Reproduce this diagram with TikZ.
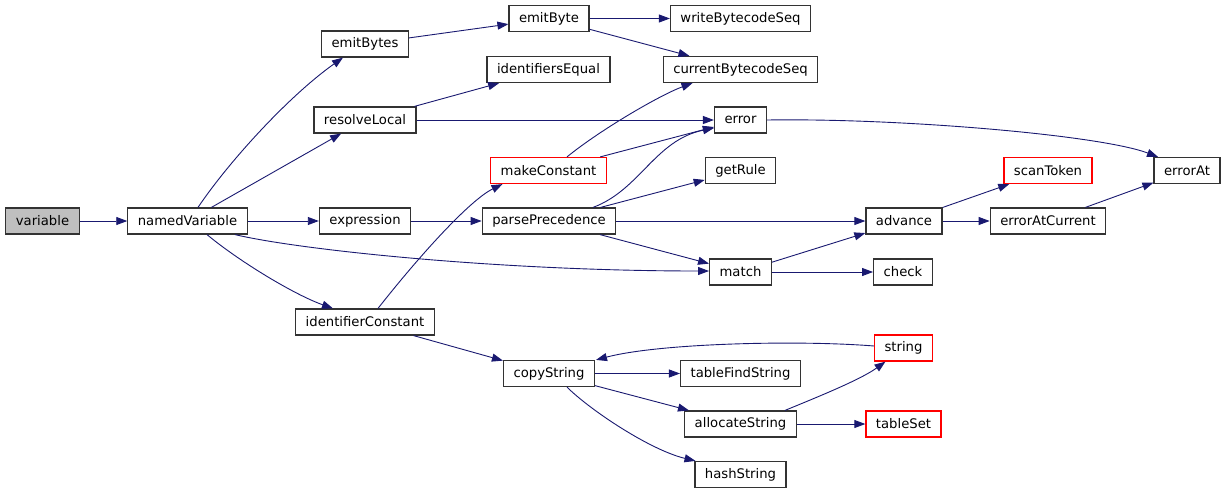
\documentclass[tikz,border=0pt]{standalone}
\usepackage{fontspec}
\setmainfont{DejaVu Sans}
\usetikzlibrary{arrows.meta}
\definecolor{edgeblue}{HTML}{191970}
\definecolor{boxgray}{HTML}{BFBFBF}
\definecolor{boxred}{HTML}{FF0000}
\begin{document}
\begin{tikzpicture}[x=1pt,y=-1pt,
  fn/.style={draw=black!80,line width=1.2pt,fill=white,minimum height=26pt,inner xsep=10pt,inner ysep=0pt,font=\fontsize{13.2pt}{16pt}\selectfont},
  redfn/.style={fn,draw=boxred},
  rootfn/.style={fn,fill=boxgray},
  call/.style={draw=edgeblue,line width=0.9pt,-{Triangle[length=11pt,width=8pt]}}]
\useasboundingbox (0,0) rectangle (1225,493);
\node[rootfn] (var) at (42.5,221) {variable};
\node[fn] (nv) at (187.5,221) {namedVariable};
\node[fn] (ebs) at (365,44) {emitBytes};
\node[fn] (eb) at (549,18.5) {emitByte};
\node[fn] (wbs) at (740.5,18.5) {writeBytecodeSeq};
\node[fn] (cbs) at (740.5,69.5) {currentBytecodeSeq};
\node[fn] (ieq) at (548.5,69.5) {identifiersEqual};
\node[fn] (rl) at (365,120) {resolveLocal};
\node[fn] (err) at (740.5,120) {error};
\node[redfn] (mc) at (548.5,170.5) {makeConstant};
\node[fn] (gr) at (740.5,170.5) {getRule};
\node[redfn] (st) at (1048,170.5) {scanToken};
\node[fn] (ea) at (1187,170.5) {errorAt};
\node[fn] (expr) at (365,221) {expression};
\node[fn] (pp) at (549,221) {parsePrecedence};
\node[fn] (adv) at (904,221) {advance};
\node[fn] (eac) at (1048,221) {errorAtCurrent};
\node[fn] (mat) at (740.5,272) {match};
\node[fn] (chk) at (903,272) {check};
\node[fn] (ic) at (365,322) {identifierConstant};
\node[fn] (cs) at (549,373.5) {copyString};
\node[redfn] (str) at (903.5,348) {string};
\node[fn] (tfs) at (740.5,373.5) {tableFindString};
\node[fn] (as) at (740.5,424) {allocateString};
\node[redfn] (ts) at (903.5,424) {tableSet};
\node[fn] (hs) at (740.5,474.5) {hashString};
% straight calls
\draw[call] (var) -- (nv);
\draw[call] (nv) -- (expr);
\draw[call] (nv) -- (rl);
\draw[call] (expr) -- (pp);
\draw[call] (ebs) -- (eb);
\draw[call] (eb) -- (wbs);
\draw[call] (eb) -- (cbs);
\draw[call] (rl) -- (ieq);
\draw[call] (rl) -- (err);
\draw[call] (mc) -- (err);
\draw[call] (pp) -- (gr);
\draw[call] (pp) -- (adv);
\draw[call] (pp) -- (mat);
\draw[call] (adv) -- (st);
\draw[call] (adv) -- (eac);
\draw[call] (eac) -- (ea);
\draw[call] (mat) -- (adv);
\draw[call] (mat) -- (chk);
\draw[call] (ic) -- (cs);
\draw[call] (cs) -- (tfs);
\draw[call] (cs) -- (as);
\draw[call] (as) -- (ts);
% curved calls
\draw[call] ([xshift=10.5pt]nv.north) .. controls (230,160) and (290,95) .. ([xshift=-22pt]ebs.south);
\draw[call] ([xshift=19.5pt]nv.south) .. controls (240,262) and (295,295) .. ([xshift=-32pt]ic.north);
\draw[call] ([xshift=47.5pt]nv.south) .. controls (300,250) and (500,271) .. ([yshift=1pt]mat.west);
\draw[call] ([xshift=13pt]ic.north) .. controls (420,255) and (470,200) .. ([xshift=-46pt]mc.south);
\draw[call] ([xshift=18.5pt]mc.north) .. controls (600,130) and (660,95) .. ([xshift=-48pt]cbs.south);
\draw[call] ([xshift=44pt]pp.north) .. controls (640,190) and (655,140) .. ([yshift=-8pt]err.west);
\draw[call] (err.east) .. controls (900,118) and (1100,135) .. ([xshift=-29pt]ea.north);
\draw[call] ([xshift=18pt]cs.south) .. controls (590,410) and (650,450) .. ([xshift=-45pt]hs.north);
\draw[call] ([yshift=2pt]str.west) .. controls (800,340) and (660,343) .. ([xshift=47pt]cs.north);
\draw[call] ([xshift=44.5pt]as.north) .. controls (815,398) and (860,380) .. ([xshift=-18pt]str.south);
\end{tikzpicture}
\end{document}
